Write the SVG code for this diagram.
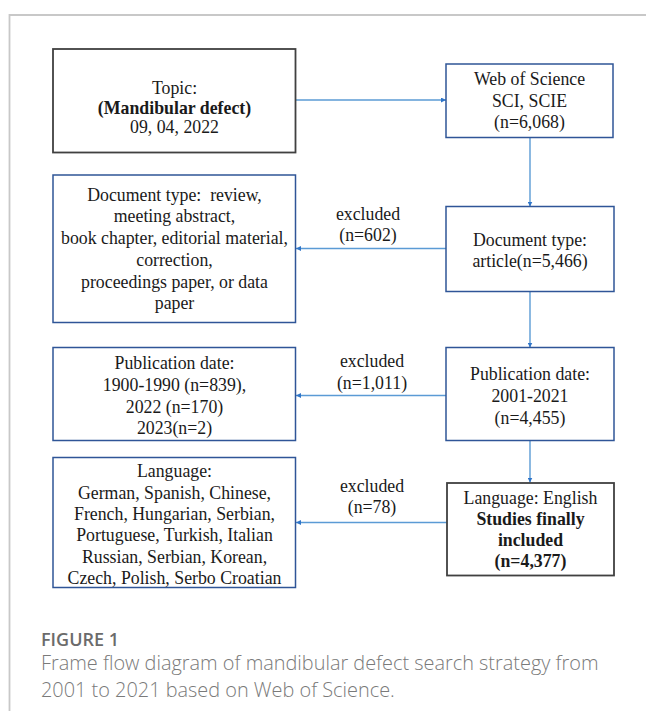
<svg xmlns="http://www.w3.org/2000/svg" width="646" height="711" viewBox="0 0 646 711">
<defs>
<style>
.t{font-family:"Liberation Serif","Times New Roman",serif;font-size:17.8px;fill:#1a1a1a;text-anchor:middle}
.b{font-weight:bold}
.bx{fill:#fff;stroke:#2f5597;stroke-width:1.5}
.dk{fill:#fff;stroke:#404040;stroke-width:1.8}
.c{stroke:#5b9bd5;stroke-width:1.4;fill:none;marker-end:url(#ah)}
.cap{font-family:"Open Sans","Liberation Sans",sans-serif;fill:#7a7a7a;font-weight:300;font-size:19.9px}
.fig{font-family:"Open Sans","Liberation Sans",sans-serif;fill:#6b6b6b;font-weight:600;font-size:18px}
</style>
<marker id="ah" viewBox="0 0 10 10" refX="10" refY="5" markerWidth="5" markerHeight="5" orient="auto" markerUnits="userSpaceOnUse">
<path d="M0,0 L10,5 L0,10 z" fill="#2f75c9"/>
</marker>
</defs>
<rect width="646" height="711" fill="#fff"/>
<path d="M9.5,711 V15 H646" fill="none" stroke="#c8c8c8" stroke-width="1.8"/>

<g id="connectors">
<line class="c" x1="296" y1="100" x2="446" y2="100"/>
<line class="c" x1="530" y1="137.5" x2="530" y2="206.5"/>
<line class="c" x1="446" y1="248.5" x2="296" y2="248.5"/>
<line class="c" x1="530" y1="291.5" x2="530" y2="347.5"/>
<line class="c" x1="446" y1="395.5" x2="296" y2="395.5"/>
<line class="c" x1="530" y1="440.5" x2="530" y2="482.5"/>
<line class="c" x1="447" y1="522.5" x2="296" y2="522.5"/>
<text class="t" x="368" y="220">excluded</text>
<text class="t" x="368" y="241">(n=602)</text>
<text class="t" x="372" y="367">excluded</text>
<text class="t" x="372" y="389">(n=1,011)</text>
<text class="t" x="372" y="492">excluded</text>
<text class="t" x="372" y="513">(n=78)</text>
</g>

<g id="topic">
<rect class="dk" x="53" y="49" width="242.5" height="103.5"/>
<text class="t" x="174.5" y="94">Topic:</text>
<text class="t b" x="174.5" y="114">(Mandibular defect)</text>
<text class="t" x="174.5" y="133">09, 04, 2022</text>
</g>

<g id="wos">
<rect class="bx" x="446" y="64" width="167" height="73.5"/>
<text class="t" x="529.5" y="85">Web of Science</text>
<text class="t" x="529.5" y="106.5">SCI, SCIE</text>
<text class="t" x="529.5" y="128">(n=6,068)</text>
</g>

<g id="doctype-excluded">
<rect class="bx" x="53" y="175" width="242.5" height="147.5"/>
<text class="t" x="174.5" y="200.5">Document type:&#160; review,</text>
<text class="t" x="174.5" y="222">meeting abstract,</text>
<text class="t" x="174.5" y="244">book chapter, editorial material,</text>
<text class="t" x="174.5" y="265.5">correction,</text>
<text class="t" x="174.5" y="287.5">proceedings paper, or data</text>
<text class="t" x="174.5" y="309">paper</text>
</g>

<g id="doctype-article">
<rect class="bx" x="446" y="206.5" width="168" height="85"/>
<text class="t" x="530" y="246">Document type:</text>
<text class="t" x="530" y="267">article(n=5,466)</text>
</g>

<g id="pubdate-excluded">
<rect class="bx" x="53" y="347.5" width="242.5" height="93"/>
<text class="t" x="174.5" y="369">Publication date:</text>
<text class="t" x="174.5" y="391">1900-1990 (n=839),</text>
<text class="t" x="174.5" y="412.5">2022 (n=170)</text>
<text class="t" x="174.5" y="433.5">2023(n=2)</text>
</g>

<g id="pubdate-included">
<rect class="bx" x="446" y="347.5" width="168" height="93"/>
<text class="t" x="530" y="380">Publication date:</text>
<text class="t" x="530" y="402">2001-2021</text>
<text class="t" x="530" y="424">(n=4,455)</text>
</g>

<g id="language-excluded">
<rect class="bx" x="53" y="457.5" width="242.5" height="130"/>
<text class="t" x="174.5" y="477">Language:</text>
<text class="t" x="174.5" y="498.5">German, Spanish, Chinese,</text>
<text class="t" x="174.5" y="520">French, Hungarian, Serbian,</text>
<text class="t" x="174.5" y="541">Portuguese, Turkish, Italian</text>
<text class="t" x="174.5" y="562.5">Russian, Serbian, Korean,</text>
<text class="t" x="174.5" y="583.5">Czech, Polish, Serbo Croatian</text>
</g>

<g id="language-english">
<rect class="dk" x="447" y="483" width="167" height="92.5"/>
<text class="t" x="530.5" y="504">Language: English</text>
<text class="t b" x="530.5" y="525">Studies finally</text>
<text class="t b" x="530.5" y="546">included</text>
<text class="t b" x="530.5" y="567">(n=4,377)</text>
</g>

<g id="caption">
<text class="fig" x="41" y="646">FIGURE 1</text>
<text class="cap" x="41" y="670">Frame flow diagram of mandibular defect search strategy from</text>
<text class="cap" x="41" y="697">2001 to 2021 based on Web of Science.</text>
</g>
</svg>
